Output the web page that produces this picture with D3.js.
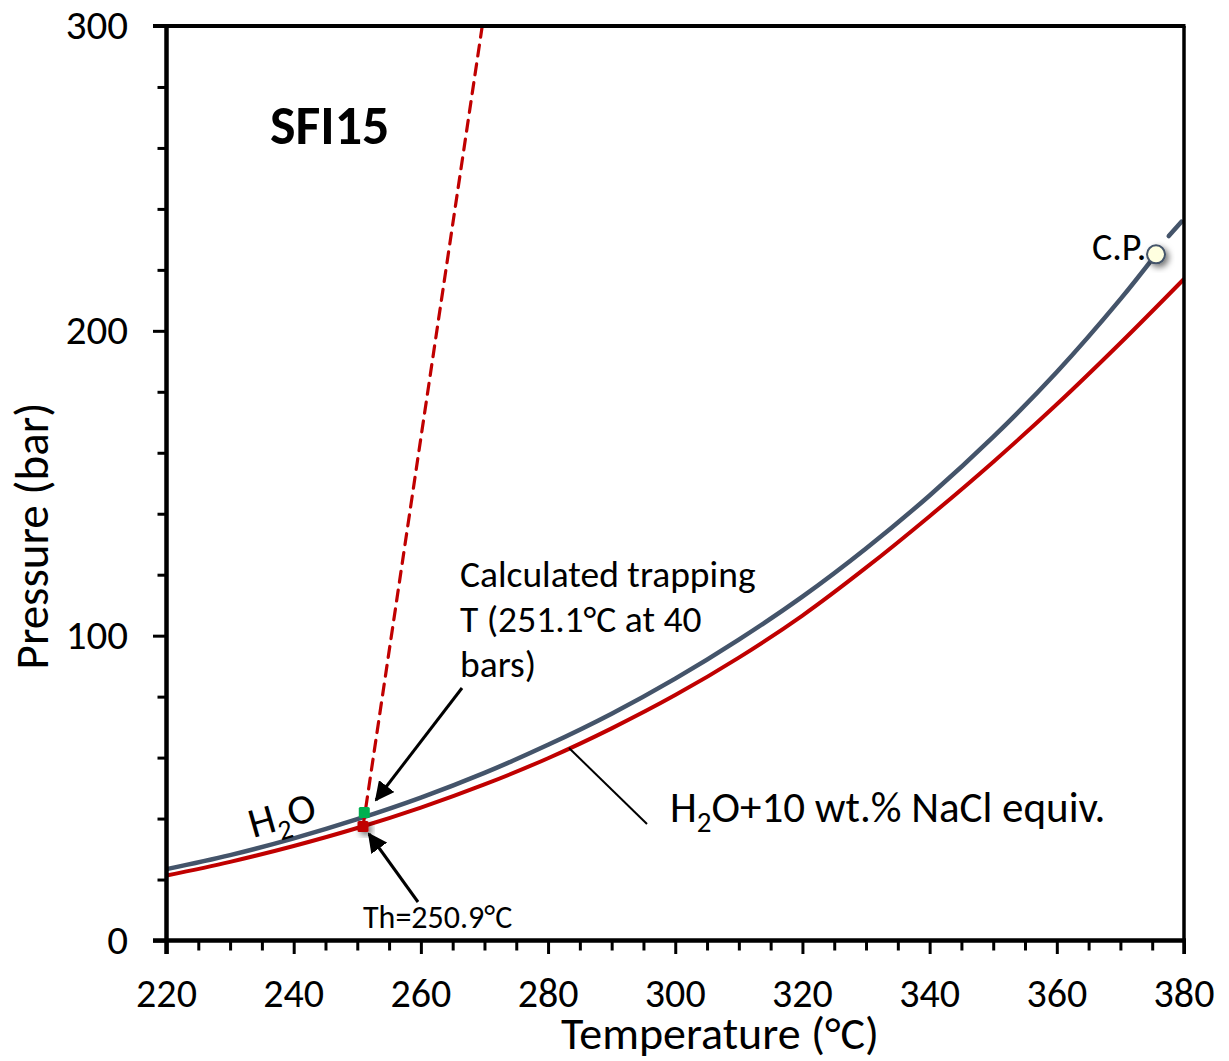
<!DOCTYPE html>
<html><head><meta charset="utf-8">
<script src="https://cdn.jsdelivr.net/npm/d3@7"></script>
<style>
body{margin:0;background:#fff;}
svg{display:block;font-family:Carlito,Lato,"Open Sans",sans-serif;}
</style></head>
<body>
<svg id="c" width="1229" height="1061"></svg>
<script>
// ---- data ----
const xTicks = [220,240,260,280,300,320,340,360,380];
const yTicks = [0,100,200,300];
// H2O liquid-vapour curve (°C, bar) up to critical point
const h2oT = [220,230,240,250,260,270,280,290,300,310,320,330,340,350,360,370,375.6];
const h2oP = [23.4,28.0,33.5,39.8,46.9,55.0,64.2,74.4,85.9,98.7,112.8,128.6,146.0,165.2,186.5,210.4,225.1];
// short dash beyond the critical point
const h2oExtT = [377.6,379.6];
const h2oExtP = [231.1,235.8];
// H2O + 10 wt.% NaCl equiv. curve
const naclT = [220,230,240,250,260,270,280,290,300,310,320,330,340,350,360,370,380];
const naclP = [21.3,25.8,31.0,36.9,43.6,51.2,59.8,69.6,80.5,92.8,106.6,122.3,139.2,157.0,175.9,196.0,217.0];
// isochore (dashed red)
const isoT = [250.9,269.65];
const isoP = [37.4,300];
const cp = {T:375.6, P:225.1};
const trapPt = {T:251.1, P:42.0};
const thPt = {T:250.9, P:37.4};

// ---- layout ----
const svg = d3.select("#c");
const x = d3.scaleLinear().domain([220,380]).range([166.5,1184]);
const y = d3.scaleLinear().domain([0,300]).range([940.5,26]);
const grayC = "#44546a", redC = "#c00000";

const defs = svg.append("defs");
const f = defs.append("filter").attr("id","sh").attr("x","-50%").attr("y","-50%").attr("width","200%").attr("height","200%");
f.append("feDropShadow").attr("dx",3).attr("dy",3).attr("stdDeviation",3).attr("flood-color","#000").attr("flood-opacity",0.55);
const mk = defs.append("marker").attr("id","arr").attr("viewBox","0 0 10 10").attr("refX",9).attr("refY",5)
  .attr("markerWidth",6.5).attr("markerHeight",6.5).attr("markerUnits","strokeWidth").attr("orient","auto");
mk.append("path").attr("d","M0,0 L10,5 L0,10 z").attr("fill","#000");

const line = d3.line().x(d=>x(d[0])).y(d=>y(d[1])).curve(d3.curveCatmullRom);
const straight = d3.line().x(d=>x(d[0])).y(d=>y(d[1]));

// curves
svg.append("path").datum(naclT.map((t,i)=>[t,naclP[i]])).attr("d",line)
  .attr("fill","none").attr("stroke",redC).attr("stroke-width",4);
svg.append("path").datum(h2oT.map((t,i)=>[t,h2oP[i]])).attr("d",line)
  .attr("fill","none").attr("stroke",grayC).attr("stroke-width",4.5);
svg.append("path").datum(h2oExtT.map((t,i)=>[t,h2oExtP[i]])).attr("d",straight)
  .attr("fill","none").attr("stroke",grayC).attr("stroke-width",4.5).attr("stroke-linecap","round");
svg.append("path").datum(isoT.map((t,i)=>[t,isoP[i]])).attr("d",straight)
  .attr("fill","none").attr("stroke",redC).attr("stroke-width",3.2).attr("stroke-dasharray","11,8").attr("stroke-linecap","round");

// axes
const gx = svg.append("g").attr("transform",`translate(0,${y(0)})`)
  .call(d3.axisBottom(x).tickValues(d3.range(220,381,5)).tickSize(10).tickFormat(""));
gx.selectAll(".tick line").attr("stroke","#000").attr("stroke-width",3).filter(d=>d%20===0).attr("y2",13.5);
gx.select(".domain").remove();
const gy = svg.append("g").attr("transform",`translate(${x(220)},0)`)
  .call(d3.axisLeft(y).tickValues(d3.range(0,301,20)).tickSize(9).tickFormat(""));
gy.selectAll(".tick line").attr("stroke","#000").attr("stroke-width",3).filter(d=>d%100===0).attr("x2",-13.5);
gy.select(".domain").remove();
// frame
svg.append("line").attr("x1",x(220)).attr("x2",x(220)).attr("y1",y(300)-2).attr("y2",y(0)+13.5).attr("stroke","#000").attr("stroke-width",4.5);
svg.append("line").attr("x1",x(220)-13.5).attr("x2",x(380)+2).attr("y1",y(0)).attr("y2",y(0)).attr("stroke","#000").attr("stroke-width",4.5);
svg.append("line").attr("x1",x(220)-13.5).attr("x2",x(380)+1.5).attr("y1",y(300)).attr("y2",y(300)).attr("stroke","#000").attr("stroke-width",4);
svg.append("line").attr("x1",x(380)).attr("x2",x(380)).attr("y1",y(300)).attr("y2",y(0)+13.5).attr("stroke","#000").attr("stroke-width",3.5);

// tick labels
svg.append("g").selectAll("text").data(xTicks).join("text")
  .attr("x",d=>x(d)).attr("y",1007).attr("text-anchor","middle").attr("font-size",40).text(d=>d);
svg.append("g").selectAll("text").data(yTicks).join("text")
  .attr("x",128).attr("y",d=>y(d)+13).attr("text-anchor","end").attr("font-size",41).text(d=>d);

// axis titles
svg.append("text").attr("x",720).attr("y",1049).attr("text-anchor","middle").attr("font-size",46).text("Temperature (°C)");
svg.append("text").attr("transform","translate(48,536) rotate(-90)").attr("text-anchor","middle").attr("font-size",47).text("Pressure (bar)");

// points
svg.append("circle").attr("cx",x(cp.T)).attr("cy",y(cp.P)).attr("r",9).attr("fill","#ffffe0")
  .attr("stroke",grayC).attr("stroke-width",2).attr("filter","url(#sh)");
svg.append("rect").attr("x",x(thPt.T)-5.5).attr("y",y(thPt.P)-5.5).attr("width",11).attr("height",11).attr("rx",1.5)
  .attr("fill",redC).attr("filter","url(#sh)");
svg.append("rect").attr("x",x(trapPt.T)-5.5).attr("y",y(trapPt.P)-5.5).attr("width",11).attr("height",11).attr("rx",1.5)
  .attr("fill","#00b050");

// annotation lines / arrows
svg.append("line").attr("x1",462).attr("y1",688).attr("x2",376).attr("y2",800)
  .attr("stroke","#000").attr("stroke-width",3).attr("marker-end","url(#arr)");
svg.append("line").attr("x1",418).attr("y1",902).attr("x2",369).attr("y2",834)
  .attr("stroke","#000").attr("stroke-width",3).attr("marker-end","url(#arr)");
svg.append("line").attr("x1",569).attr("y1",748).attr("x2",647).attr("y2",824)
  .attr("stroke","#000").attr("stroke-width",2);

// texts
svg.append("text").attr("x",270).attr("y",144).attr("font-size",54).attr("font-weight","bold").text("SFI15");
const tl = ["Calculated trapping","T (251.1°C at 40","bars)"];
svg.append("g").selectAll("text").data(tl).join("text")
  .attr("x",460).attr("y",(d,i)=>587+i*45).attr("font-size",37.5).text(d=>d);
svg.append("text").attr("x",1092).attr("y",260).attr("font-size",38).text("C.P.");
svg.append("text").attr("x",363).attr("y",928).attr("font-size",32).text("Th=250.9°C");
const t1 = svg.append("text").attr("x",670).attr("y",822).attr("font-size",43);
t1.append("tspan").text("H");
t1.append("tspan").attr("font-size",29).attr("dy",10).text("2");
t1.append("tspan").attr("dy",-10).text("O+10 wt.% NaCl equiv.");
const t2 = svg.append("text").attr("transform","translate(253,838) rotate(-16)").attr("font-size",42);
t2.append("tspan").text("H");
t2.append("tspan").attr("font-size",28).attr("dy",10).text("2");
t2.append("tspan").attr("dy",-10).text("O");
</script>
</body></html>
